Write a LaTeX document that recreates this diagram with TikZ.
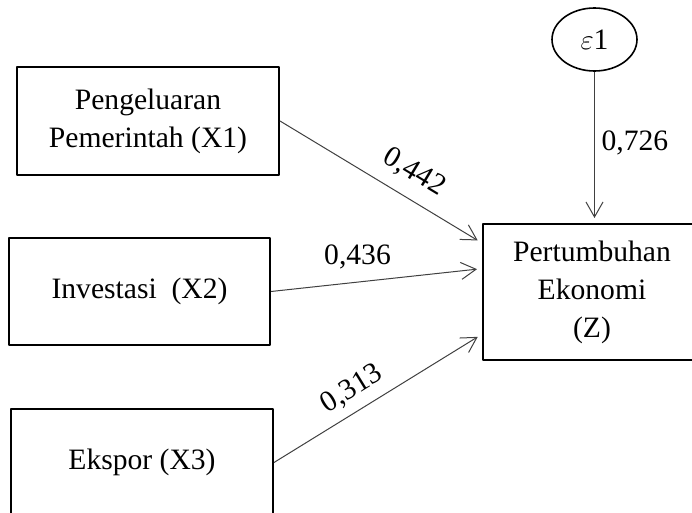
\documentclass[tikz,border=0pt]{standalone}
\usepackage{fontspec}
\setmainfont{Liberation Serif}
\usetikzlibrary{shapes.geometric, arrows.meta}
\tikzset{>={Straight Barb[length=7.5pt,width=8.5pt]}}

\begin{document}
\begin{tikzpicture}[x=0.5pt, y=-0.5pt, line join = round,
    var/.style = {draw, line width=1pt, align=center, font=\fontsize{14.8}{19}\selectfont},
    path/.style = {->, line width=0.5pt, draw=black!75, shorten >=2.5pt},
    coef/.style = {font=\fontsize{14.8}{18}\selectfont}]
    \useasboundingbox (0,0) rectangle (692,513);
    \node[var, minimum width=131pt, minimum height=54pt] (x1) at (148,121) {Pengeluaran\\Pemerintah (X1)};
    \node[var, minimum width=130.5pt, minimum height=53.5pt] (x2) at (139.5,291.5) {Investasi\ \ (X2)};
    \node[var, minimum width=131pt, minimum height=53.5pt] (x3) at (142,462.5) {Ekspor (X3)};
    \node[var, minimum width=109pt, minimum height=68pt] (z) at (592,292) {Pertumbuhan\\Ekonomi\\(Z)};
    \node[ellipse, draw, line width=0.8pt, inner sep=0pt, minimum width=42.5pt, minimum height=31.5pt,
        font=\fontsize{14.8}{18}\selectfont] (eps) at (594.5,39.5) {$\varepsilon$1};

    \draw[path] (x1.east) -- node[coef, pos=0.6, sloped, above=3pt] {0,442} (z.156);
    \draw[path] (x2.east) -- node[coef, pos=0.41, above=3pt] {0,436} (z.168);
    \draw[path] (x3.east) -- node[coef, pos=0.43, sloped, above=1pt] {0,313} (z.201);
    \draw[path] (eps.south) -- node[coef, pos=0.47, right] {0,726} (eps.south |- z.north);

\end{tikzpicture}
\end{document}
